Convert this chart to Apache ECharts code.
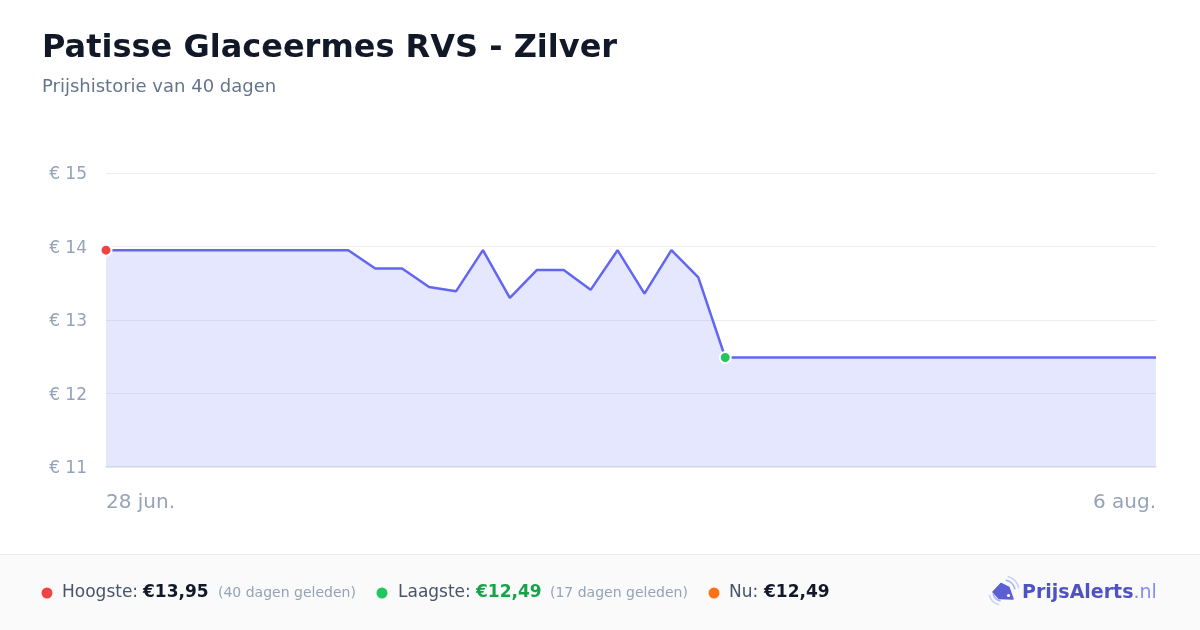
<!DOCTYPE html>
<html>
<head>
<meta charset="utf-8">
<script src="https://cdn.jsdelivr.net/npm/echarts@6/dist/echarts.min.js"></script>
<style>
html,body{margin:0;padding:0;background:#ffffff;}
#chart{width:1200px;height:630px;}
</style>
</head>
<body>
<div id="chart"></div>
<script>
const titleText = 'Patisse Glaceermes RVS - Zilver';
const subtitleText = 'Prijshistorie van 40 dagen';

const dates = [
  '28 jun.','29 jun.','30 jun.','1 jul.','2 jul.','3 jul.','4 jul.','5 jul.','6 jul.','7 jul.',
  '8 jul.','9 jul.','10 jul.','11 jul.','12 jul.','13 jul.','14 jul.','15 jul.','16 jul.','17 jul.',
  '18 jul.','19 jul.','20 jul.','21 jul.','22 jul.','23 jul.','24 jul.','25 jul.','26 jul.','27 jul.',
  '28 jul.','29 jul.','30 jul.','31 jul.','1 aug.','2 aug.','3 aug.','4 aug.','5 aug.','6 aug.'
];

const prices = [
  13.95,13.95,13.95,13.95,13.95,13.95,13.95,13.95,13.95,13.95,
  13.70,13.70,13.45,13.39,13.95,13.30,13.68,13.68,13.41,13.95,
  13.36,13.95,13.58,12.49,12.49,12.49,12.49,12.49,12.49,12.49,
  12.49,12.49,12.49,12.49,12.49,12.49,12.49,12.49,12.49,12.49
];

const yTicks = [11, 12, 13, 14, 15];

const footerLabels = { high: 'Hoogste:', low: 'Laagste:', now: 'Nu:' };
const highAgo = '(40 dagen geleden)';
const lowAgo = '(17 dagen geleden)';

const maxVal = Math.max(...prices);
const minVal = Math.min(...prices);
const highIdx = prices.indexOf(maxVal);
const lowIdx = prices.indexOf(minVal);
const nowVal = prices[prices.length - 1];
const fmt = v => '€' + v.toFixed(2).replace('.', ',');

const FONT = 'DejaVu Sans';
const chart = echarts.init(document.getElementById('chart'), null, { renderer: 'canvas' });

const footerY = 593;

const option = {
  backgroundColor: '#ffffff',
  animation: false,
  textStyle: { fontFamily: FONT },
  grid: { left: 106, right: 44, top: 173, bottom: 163, containLabel: false, outerBoundsMode: 'none' },
  xAxis: {
    type: 'category',
    data: dates,
    boundaryGap: false,
    axisLine: { show: true, lineStyle: { color: '#e2e5ea', width: 1.5 } },
    axisTick: { show: false },
    splitLine: { show: false },
    axisLabel: {
      interval: (i) => i === 0 || i === dates.length - 1,
      color: '#94a3b8',
      fontSize: 20,
      fontFamily: FONT,
      margin: 26,
      alignMinLabel: 'left',
      alignMaxLabel: 'right',
      showMinLabel: true,
      showMaxLabel: true
    }
  },
  yAxis: {
    type: 'value',
    min: yTicks[0],
    max: yTicks[yTicks.length - 1],
    interval: 1,
    axisLine: { show: false },
    axisTick: { show: false },
    splitLine: { show: true, lineStyle: { color: '#eceef2', width: 1 } },
    axisLabel: {
      margin: 19,
      formatter: v => '{a|€ ' + v + '}',
      rich: {
        a: { color: '#94a3b8', fontSize: 17, fontFamily: FONT, padding: [4, 0, 0, 0] }
      }
    }
  },
  series: [{
    type: 'line',
    data: prices,
    showSymbol: true,
    symbol: 'circle',
    symbolSize: (v, p) => (p.dataIndex === highIdx || p.dataIndex === lowIdx) ? 11 : 0,
    itemStyle: {
      color: (p) => p.dataIndex === highIdx ? '#ef4444' : (p.dataIndex === lowIdx ? '#22c55e' : '#6366f1'),
      borderColor: '#ffffff',
      borderWidth: 2
    },
    lineStyle: { color: '#6366f1', width: 2.5 },
    areaStyle: { color: 'rgba(129,140,248,0.3)', origin: 'start' },
    z: 3
  }],
  graphic: [
    { type: 'text', left: 42, top: 33, style: { text: titleText, font: 'bold 32px "DejaVu Sans"', fill: '#111827' } },
    { type: 'text', left: 42, top: 78, style: { text: subtitleText, font: '18px "DejaVu Sans"', fill: '#64748b' } },
    { type: 'rect', shape: { x: 0, y: 554, width: 1200, height: 76 }, style: { fill: '#fafafa' }, z: 0 },
    { type: 'line', shape: { x1: 0, y1: 554.5, x2: 1200, y2: 554.5 }, style: { stroke: '#eeeeee', lineWidth: 1 } },

    { type: 'circle', shape: { cx: 47, cy: footerY, r: 5.5 }, style: { fill: '#ef4444' } },
    { type: 'text', x: 62, y: footerY, style: { text: footerLabels.high, font: '17px "DejaVu Sans"', fill: '#475569', verticalAlign: 'middle' } },
    { type: 'text', x: 143, y: footerY, style: { text: fmt(maxVal), font: 'bold 17px "DejaVu Sans"', fill: '#111827', verticalAlign: 'middle' } },
    { type: 'text', x: 218, y: footerY, style: { text: highAgo, font: '14px "DejaVu Sans"', fill: '#94a3b8', verticalAlign: 'middle' } },

    { type: 'circle', shape: { cx: 382, cy: footerY, r: 5.5 }, style: { fill: '#22c55e' } },
    { type: 'text', x: 398, y: footerY, style: { text: footerLabels.low, font: '17px "DejaVu Sans"', fill: '#475569', verticalAlign: 'middle' } },
    { type: 'text', x: 476, y: footerY, style: { text: fmt(minVal), font: 'bold 17px "DejaVu Sans"', fill: '#16a34a', verticalAlign: 'middle' } },
    { type: 'text', x: 550, y: footerY, style: { text: lowAgo, font: '14px "DejaVu Sans"', fill: '#94a3b8', verticalAlign: 'middle' } },

    { type: 'circle', shape: { cx: 714, cy: footerY, r: 5.5 }, style: { fill: '#f97316' } },
    { type: 'text', x: 729, y: footerY, style: { text: footerLabels.now, font: '17px "DejaVu Sans"', fill: '#475569', verticalAlign: 'middle' } },
    { type: 'text', x: 764, y: footerY, style: { text: fmt(nowVal), font: 'bold 17px "DejaVu Sans"', fill: '#111827', verticalAlign: 'middle' } },

    // logo icon
    { type: 'polygon', shape: { points: [[993, 592], [1001, 583.5], [1009, 587.5], [1013, 599], [999, 598.5]] }, style: { fill: '#5b5fd6', lineJoin: 'round', stroke: '#5b5fd6', lineWidth: 1.5 } },
    { type: 'circle', shape: { cx: 1008.5, cy: 595.5, r: 1.6 }, style: { fill: '#ffffff' } },
    { type: 'arc', shape: { cx: 1004, cy: 591, r: 11, startAngle: -Math.PI * 0.45, endAngle: -Math.PI * 0.05 }, style: { stroke: '#a5b4fc', lineWidth: 1.6, fill: null } },
    { type: 'arc', shape: { cx: 1004, cy: 591, r: 15, startAngle: -Math.PI * 0.42, endAngle: -Math.PI * 0.06 }, style: { stroke: '#c7d2fe', lineWidth: 1.6, fill: null } },
    { type: 'arc', shape: { cx: 1002, cy: 592, r: 9, startAngle: Math.PI * 0.55, endAngle: Math.PI * 0.95 }, style: { stroke: '#a5b4fc', lineWidth: 1.6, fill: null } },
    { type: 'arc', shape: { cx: 1002, cy: 592, r: 13, startAngle: Math.PI * 0.57, endAngle: Math.PI * 0.93 }, style: { stroke: '#c7d2fe', lineWidth: 1.6, fill: null } },
    {
      type: 'text', x: 1022, y: footerY,
      style: {
        text: '{b|PrijsAlerts}{n|.nl}',
        verticalAlign: 'middle',
        rich: {
          b: { font: 'bold 19px "DejaVu Sans"', fill: '#4f52c4' },
          n: { font: '19px "DejaVu Sans"', fill: '#818cf8' }
        }
      }
    }
  ]
};

chart.setOption(option);
</script>
</body>
</html>
